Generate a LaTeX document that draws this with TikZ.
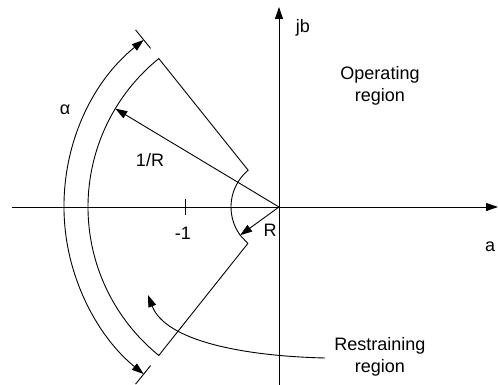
\documentclass[tikz,border=0pt]{standalone}
\usepackage{fontspec}
\setmainfont{Liberation Sans}
\usetikzlibrary{arrows.meta}
\begin{document}
\begin{tikzpicture}[x=1pt,y=1pt,
  line width=0.9pt,
  lbl/.style={font=\fontsize{18}{22}\selectfont, inner sep=0pt, align=center},
  tipend/.style={-{Triangle[length=12pt,width=8pt]}},
  tipboth/.style={{Triangle[length=12pt,width=8pt]}-{Triangle[length=12pt,width=8pt]}},
  ]
\useasboundingbox (0,0) rectangle (498,385);
% axes
\coordinate (O) at (279,178);
\coordinate (Ytop) at (279,378);
\coordinate (Ybot) at (279,0);
\coordinate (Xl) at (12,178);
\coordinate (Xr) at (498,178);
\draw[tipend] (Ybot) -- (Ytop);
\draw[tipend] (Xl) -- (Xr);
% tick at -1
\coordinate (T1) at (185,186);
\coordinate (T2) at (185,170);
\draw (T1) -- (T2);
% characteristic boundary
\coordinate (PA) at ([shift={(O)}]129:191);
\coordinate (PB) at ([shift={(O)}]229.5:48);
\coordinate (PC) at ([shift={(O)}]216:48);
\draw (PA) arc[start angle=129,end angle=231,radius=191] -- (PB) -- (PC)
      arc[start angle=216,end angle=130,radius=48] -- cycle;
% angle alpha arc with ticks
\coordinate (AA) at ([shift={(O)}]129:215);
\draw[tipboth] (AA) arc[start angle=129,end angle=231,radius=215];
\coordinate (K1a) at ([shift={(O)}]129:204);
\coordinate (K1b) at ([shift={(O)}]129:228);
\coordinate (K2a) at ([shift={(O)}]231:204);
\coordinate (K2b) at ([shift={(O)}]231:228);
\draw (K1a) -- (K1b);
\draw (K2a) -- (K2b);
% radii
\coordinate (RB) at ([shift={(O)}]149:191);
\draw[tipend] (O) -- (RB);
\draw[tipend] (O) -- (PC);
% restraining pointer
\coordinate (RS) at (325,27);
\coordinate (RE) at (148,90);
\draw[tipend] (RS) .. controls (240,29) and (165,45) .. (RE);
% labels
\node[lbl] (alpha) at (65,275) {α};
\node[lbl] (invR) at (150,225) {1/R};
\node[lbl] (m1) at (183,152) {-1};
\node[lbl] (Rl) at (270,155) {R};
\node[lbl] (jb) at (303,357) {jb};
\node[lbl] (al) at (490,138) {a};
\node[lbl] (op) at (380,299) {Operating\\region};
\node[lbl] (rs) at (380,28) {Restraining\\region};
\end{tikzpicture}
\end{document}
